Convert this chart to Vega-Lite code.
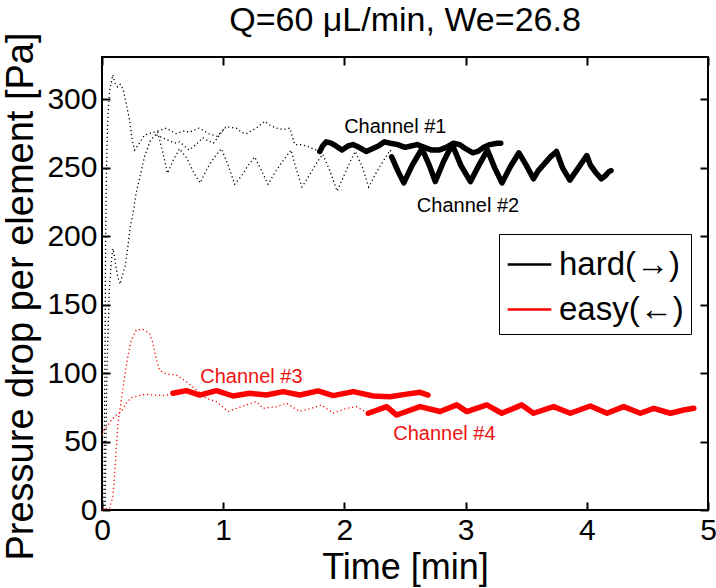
{
  "$schema": "https://vega.github.io/schema/vega-lite/v6.json",
  "width": 606,
  "height": 453,
  "autosize": {"type": "none"},
  "padding": {"left": 102, "top": 57, "right": 8, "bottom": 78},
  "background": "white",
  "title": {"text": "Q=60 μL/min, We=26.8", "font": "Liberation Sans", "fontSize": 34, "fontWeight": "normal", "color": "black", "anchor": "middle", "offset": -6},
  "config": {
    "view": {"stroke": "black", "strokeWidth": 2},
    "axis": {"domain": false, "grid": false, "zindex": 1, "labelFont": "Liberation Sans", "labelFontSize": 30, "labelColor": "black", "labelFlush": false, "titleFont": "Liberation Sans", "titleFontSize": 36, "titleFontWeight": "normal", "titleColor": "black", "ticks": true, "tickColor": "black", "tickWidth": 2, "tickSize": -8},
    "legend": {"orient": "none", "legendX": 397, "legendY": 177, "strokeColor": "black", "fillColor": "white", "padding": 7, "cornerRadius": 0, "symbolType": "stroke", "symbolSize": 1900, "symbolStrokeWidth": 2.5, "symbolDash": [1, 0], "labelFont": "Liberation Sans", "labelFontSize": 33, "labelColor": "black", "rowPadding": 4, "labelOffset": 6, "titleFontSize": 0}
  },
  "datasets": {
    "curves": [
      {"series": "A", "style": "dotted", "type": "hard(→)", "t": 0.015, "v": 0},
      {"series": "A", "style": "dotted", "type": "hard(→)", "t": 0.025, "v": 120},
      {"series": "A", "style": "dotted", "type": "hard(→)", "t": 0.03, "v": 200},
      {"series": "A", "style": "dotted", "type": "hard(→)", "t": 0.037, "v": 250},
      {"series": "A", "style": "dotted", "type": "hard(→)", "t": 0.047, "v": 285},
      {"series": "A", "style": "dotted", "type": "hard(→)", "t": 0.062, "v": 306},
      {"series": "A", "style": "dotted", "type": "hard(→)", "t": 0.089, "v": 318},
      {"series": "A", "style": "dotted", "type": "hard(→)", "t": 0.11, "v": 311},
      {"series": "A", "style": "dotted", "type": "hard(→)", "t": 0.13, "v": 309},
      {"series": "A", "style": "dotted", "type": "hard(→)", "t": 0.15, "v": 311},
      {"series": "A", "style": "dotted", "type": "hard(→)", "t": 0.172, "v": 308},
      {"series": "A", "style": "dotted", "type": "hard(→)", "t": 0.2, "v": 297},
      {"series": "A", "style": "dotted", "type": "hard(→)", "t": 0.227, "v": 285},
      {"series": "A", "style": "dotted", "type": "hard(→)", "t": 0.25, "v": 270},
      {"series": "A", "style": "dotted", "type": "hard(→)", "t": 0.269, "v": 263},
      {"series": "A", "style": "dotted", "type": "hard(→)", "t": 0.3, "v": 267},
      {"series": "A", "style": "dotted", "type": "hard(→)", "t": 0.351, "v": 274},
      {"series": "A", "style": "dotted", "type": "hard(→)", "t": 0.42, "v": 276},
      {"series": "A", "style": "dotted", "type": "hard(→)", "t": 0.5, "v": 278},
      {"series": "A", "style": "dotted", "type": "hard(→)", "t": 0.53, "v": 279},
      {"series": "A", "style": "dotted", "type": "hard(→)", "t": 0.61, "v": 275},
      {"series": "A", "style": "dotted", "type": "hard(→)", "t": 0.68, "v": 277},
      {"series": "A", "style": "dotted", "type": "hard(→)", "t": 0.72, "v": 276},
      {"series": "A", "style": "dotted", "type": "hard(→)", "t": 0.8, "v": 279},
      {"series": "A", "style": "dotted", "type": "hard(→)", "t": 0.88, "v": 275},
      {"series": "A", "style": "dotted", "type": "hard(→)", "t": 0.95, "v": 273},
      {"series": "A", "style": "dotted", "type": "hard(→)", "t": 1.026, "v": 280},
      {"series": "A", "style": "dotted", "type": "hard(→)", "t": 1.109, "v": 279},
      {"series": "A", "style": "dotted", "type": "hard(→)", "t": 1.15, "v": 276},
      {"series": "A", "style": "dotted", "type": "hard(→)", "t": 1.192, "v": 275},
      {"series": "A", "style": "dotted", "type": "hard(→)", "t": 1.23, "v": 277},
      {"series": "A", "style": "dotted", "type": "hard(→)", "t": 1.274, "v": 279},
      {"series": "A", "style": "dotted", "type": "hard(→)", "t": 1.343, "v": 284},
      {"series": "A", "style": "dotted", "type": "hard(→)", "t": 1.39, "v": 281},
      {"series": "A", "style": "dotted", "type": "hard(→)", "t": 1.44, "v": 279},
      {"series": "A", "style": "dotted", "type": "hard(→)", "t": 1.5, "v": 278},
      {"series": "A", "style": "dotted", "type": "hard(→)", "t": 1.55, "v": 279},
      {"series": "A", "style": "dotted", "type": "hard(→)", "t": 1.57, "v": 273},
      {"series": "A", "style": "dotted", "type": "hard(→)", "t": 1.59, "v": 267},
      {"series": "A", "style": "dotted", "type": "hard(→)", "t": 1.64, "v": 267},
      {"series": "A", "style": "dotted", "type": "hard(→)", "t": 1.688, "v": 266},
      {"series": "A", "style": "dotted", "type": "hard(→)", "t": 1.74, "v": 264},
      {"series": "A", "style": "dotted", "type": "hard(→)", "t": 1.797, "v": 262},

      {"series": "C", "style": "dotted", "type": "hard(→)", "t": 0.45, "v": 274},
      {"series": "C", "style": "dotted", "type": "hard(→)", "t": 0.5, "v": 272},
      {"series": "C", "style": "dotted", "type": "hard(→)", "t": 0.55, "v": 270},
      {"series": "C", "style": "dotted", "type": "hard(→)", "t": 0.6, "v": 268},
      {"series": "C", "style": "dotted", "type": "hard(→)", "t": 0.64, "v": 269},
      {"series": "C", "style": "dotted", "type": "hard(→)", "t": 0.68, "v": 266},
      {"series": "C", "style": "dotted", "type": "hard(→)", "t": 0.72, "v": 263},
      {"series": "C", "style": "dotted", "type": "hard(→)", "t": 0.76, "v": 266},
      {"series": "C", "style": "dotted", "type": "hard(→)", "t": 0.8, "v": 269},
      {"series": "C", "style": "dotted", "type": "hard(→)", "t": 0.83, "v": 272},
      {"series": "C", "style": "dotted", "type": "hard(→)", "t": 0.87, "v": 270},
      {"series": "C", "style": "dotted", "type": "hard(→)", "t": 0.92, "v": 268},
      {"series": "C", "style": "dotted", "type": "hard(→)", "t": 0.97, "v": 274},
      {"series": "C", "style": "dotted", "type": "hard(→)", "t": 1.02, "v": 280},

      {"series": "B", "style": "dotted", "type": "hard(→)", "t": 0.025, "v": 0},
      {"series": "B", "style": "dotted", "type": "hard(→)", "t": 0.04, "v": 100},
      {"series": "B", "style": "dotted", "type": "hard(→)", "t": 0.06, "v": 160},
      {"series": "B", "style": "dotted", "type": "hard(→)", "t": 0.08, "v": 185},
      {"series": "B", "style": "dotted", "type": "hard(→)", "t": 0.09, "v": 191},
      {"series": "B", "style": "dotted", "type": "hard(→)", "t": 0.1, "v": 187},
      {"series": "B", "style": "dotted", "type": "hard(→)", "t": 0.115, "v": 178},
      {"series": "B", "style": "dotted", "type": "hard(→)", "t": 0.13, "v": 170},
      {"series": "B", "style": "dotted", "type": "hard(→)", "t": 0.15, "v": 165},
      {"series": "B", "style": "dotted", "type": "hard(→)", "t": 0.17, "v": 172},
      {"series": "B", "style": "dotted", "type": "hard(→)", "t": 0.19, "v": 178},
      {"series": "B", "style": "dotted", "type": "hard(→)", "t": 0.21, "v": 190},
      {"series": "B", "style": "dotted", "type": "hard(→)", "t": 0.23, "v": 205},
      {"series": "B", "style": "dotted", "type": "hard(→)", "t": 0.26, "v": 219},
      {"series": "B", "style": "dotted", "type": "hard(→)", "t": 0.28, "v": 231},
      {"series": "B", "style": "dotted", "type": "hard(→)", "t": 0.32, "v": 246},
      {"series": "B", "style": "dotted", "type": "hard(→)", "t": 0.35, "v": 258},
      {"series": "B", "style": "dotted", "type": "hard(→)", "t": 0.4, "v": 270},
      {"series": "B", "style": "dotted", "type": "hard(→)", "t": 0.46, "v": 276},
      {"series": "B", "style": "dotted", "type": "hard(→)", "t": 0.5, "v": 262},
      {"series": "B", "style": "dotted", "type": "hard(→)", "t": 0.54, "v": 246},
      {"series": "B", "style": "dotted", "type": "hard(→)", "t": 0.59, "v": 256},
      {"series": "B", "style": "dotted", "type": "hard(→)", "t": 0.64, "v": 264},
      {"series": "B", "style": "dotted", "type": "hard(→)", "t": 0.7, "v": 257},
      {"series": "B", "style": "dotted", "type": "hard(→)", "t": 0.76, "v": 246},
      {"series": "B", "style": "dotted", "type": "hard(→)", "t": 0.81, "v": 239},
      {"series": "B", "style": "dotted", "type": "hard(→)", "t": 0.87, "v": 250},
      {"series": "B", "style": "dotted", "type": "hard(→)", "t": 0.93, "v": 258},
      {"series": "B", "style": "dotted", "type": "hard(→)", "t": 0.985, "v": 264},
      {"series": "B", "style": "dotted", "type": "hard(→)", "t": 1.04, "v": 252},
      {"series": "B", "style": "dotted", "type": "hard(→)", "t": 1.095, "v": 238},
      {"series": "B", "style": "dotted", "type": "hard(→)", "t": 1.15, "v": 244},
      {"series": "B", "style": "dotted", "type": "hard(→)", "t": 1.2, "v": 251},
      {"series": "B", "style": "dotted", "type": "hard(→)", "t": 1.26, "v": 258},
      {"series": "B", "style": "dotted", "type": "hard(→)", "t": 1.31, "v": 249},
      {"series": "B", "style": "dotted", "type": "hard(→)", "t": 1.37, "v": 238},
      {"series": "B", "style": "dotted", "type": "hard(→)", "t": 1.43, "v": 247},
      {"series": "B", "style": "dotted", "type": "hard(→)", "t": 1.5, "v": 256},
      {"series": "B", "style": "dotted", "type": "hard(→)", "t": 1.56, "v": 263},
      {"series": "B", "style": "dotted", "type": "hard(→)", "t": 1.6, "v": 250},
      {"series": "B", "style": "dotted", "type": "hard(→)", "t": 1.65, "v": 236},
      {"series": "B", "style": "dotted", "type": "hard(→)", "t": 1.7, "v": 243},
      {"series": "B", "style": "dotted", "type": "hard(→)", "t": 1.76, "v": 252},
      {"series": "B", "style": "dotted", "type": "hard(→)", "t": 1.82, "v": 260},
      {"series": "B", "style": "dotted", "type": "hard(→)", "t": 1.88, "v": 248},
      {"series": "B", "style": "dotted", "type": "hard(→)", "t": 1.94, "v": 233},
      {"series": "B", "style": "dotted", "type": "hard(→)", "t": 2.0, "v": 245},
      {"series": "B", "style": "dotted", "type": "hard(→)", "t": 2.05, "v": 255},
      {"series": "B", "style": "dotted", "type": "hard(→)", "t": 2.09, "v": 262},
      {"series": "B", "style": "dotted", "type": "hard(→)", "t": 2.15, "v": 250},
      {"series": "B", "style": "dotted", "type": "hard(→)", "t": 2.2, "v": 236},
      {"series": "B", "style": "dotted", "type": "hard(→)", "t": 2.26, "v": 246},
      {"series": "B", "style": "dotted", "type": "hard(→)", "t": 2.32, "v": 255},
      {"series": "B", "style": "dotted", "type": "hard(→)", "t": 2.38, "v": 263},
      {"series": "B", "style": "dotted", "type": "hard(→)", "t": 2.39, "v": 258},

      {"series": "R3", "style": "dotted", "type": "easy(←)", "t": 0.0, "v": 55},
      {"series": "R3", "style": "dotted", "type": "easy(←)", "t": 0.02, "v": 59},
      {"series": "R3", "style": "dotted", "type": "easy(←)", "t": 0.05, "v": 62},
      {"series": "R3", "style": "dotted", "type": "easy(←)", "t": 0.08, "v": 66},
      {"series": "R3", "style": "dotted", "type": "easy(←)", "t": 0.1, "v": 68},
      {"series": "R3", "style": "dotted", "type": "easy(←)", "t": 0.13, "v": 70},
      {"series": "R3", "style": "dotted", "type": "easy(←)", "t": 0.16, "v": 72},
      {"series": "R3", "style": "dotted", "type": "easy(←)", "t": 0.2, "v": 78},
      {"series": "R3", "style": "dotted", "type": "easy(←)", "t": 0.24, "v": 82},
      {"series": "R3", "style": "dotted", "type": "easy(←)", "t": 0.3, "v": 83.5},
      {"series": "R3", "style": "dotted", "type": "easy(←)", "t": 0.36, "v": 84.6},
      {"series": "R3", "style": "dotted", "type": "easy(←)", "t": 0.42, "v": 84},
      {"series": "R3", "style": "dotted", "type": "easy(←)", "t": 0.5, "v": 83.6},
      {"series": "R3", "style": "dotted", "type": "easy(←)", "t": 0.585, "v": 84.6},

      {"series": "R4", "style": "dotted", "type": "easy(←)", "t": 0.0, "v": 0},
      {"series": "R4", "style": "dotted", "type": "easy(←)", "t": 0.02, "v": 1},
      {"series": "R4", "style": "dotted", "type": "easy(←)", "t": 0.062, "v": 1},
      {"series": "R4", "style": "dotted", "type": "easy(←)", "t": 0.089, "v": 9.7},
      {"series": "R4", "style": "dotted", "type": "easy(←)", "t": 0.103, "v": 24},
      {"series": "R4", "style": "dotted", "type": "easy(←)", "t": 0.117, "v": 44},
      {"series": "R4", "style": "dotted", "type": "easy(←)", "t": 0.131, "v": 63},
      {"series": "R4", "style": "dotted", "type": "easy(←)", "t": 0.159, "v": 80},
      {"series": "R4", "style": "dotted", "type": "easy(←)", "t": 0.186, "v": 97},
      {"series": "R4", "style": "dotted", "type": "easy(←)", "t": 0.213, "v": 112},
      {"series": "R4", "style": "dotted", "type": "easy(←)", "t": 0.241, "v": 124},
      {"series": "R4", "style": "dotted", "type": "easy(←)", "t": 0.283, "v": 131.6},
      {"series": "R4", "style": "dotted", "type": "easy(←)", "t": 0.337, "v": 132},
      {"series": "R4", "style": "dotted", "type": "easy(←)", "t": 0.393, "v": 129},
      {"series": "R4", "style": "dotted", "type": "easy(←)", "t": 0.42, "v": 122},
      {"series": "R4", "style": "dotted", "type": "easy(←)", "t": 0.448, "v": 110},
      {"series": "R4", "style": "dotted", "type": "easy(←)", "t": 0.475, "v": 102},
      {"series": "R4", "style": "dotted", "type": "easy(←)", "t": 0.531, "v": 99.4},
      {"series": "R4", "style": "dotted", "type": "easy(←)", "t": 0.613, "v": 98.7},
      {"series": "R4", "style": "dotted", "type": "easy(←)", "t": 0.696, "v": 93.8},
      {"series": "R4", "style": "dotted", "type": "easy(←)", "t": 0.779, "v": 87.7},
      {"series": "R4", "style": "dotted", "type": "easy(←)", "t": 0.861, "v": 81.6},
      {"series": "R4", "style": "dotted", "type": "easy(←)", "t": 0.944, "v": 79.2},
      {"series": "R4", "style": "dotted", "type": "easy(←)", "t": 1.04, "v": 72},
      {"series": "R4", "style": "dotted", "type": "easy(←)", "t": 1.19, "v": 76.8},
      {"series": "R4", "style": "dotted", "type": "easy(←)", "t": 1.274, "v": 79.2},
      {"series": "R4", "style": "dotted", "type": "easy(←)", "t": 1.329, "v": 74.3},
      {"series": "R4", "style": "dotted", "type": "easy(←)", "t": 1.44, "v": 75.5},
      {"series": "R4", "style": "dotted", "type": "easy(←)", "t": 1.522, "v": 78},
      {"series": "R4", "style": "dotted", "type": "easy(←)", "t": 1.632, "v": 72},
      {"series": "R4", "style": "dotted", "type": "easy(←)", "t": 1.729, "v": 74.3},
      {"series": "R4", "style": "dotted", "type": "easy(←)", "t": 1.81, "v": 76.8},
      {"series": "R4", "style": "dotted", "type": "easy(←)", "t": 1.907, "v": 70.7},
      {"series": "R4", "style": "dotted", "type": "easy(←)", "t": 2.018, "v": 74.3},
      {"series": "R4", "style": "dotted", "type": "easy(←)", "t": 2.1, "v": 75.5},
      {"series": "R4", "style": "dotted", "type": "easy(←)", "t": 2.197, "v": 70.7},

      {"series": "H1", "style": "thick", "type": "hard(→)", "t": 1.797, "v": 262},
      {"series": "H1", "style": "thick", "type": "hard(→)", "t": 1.82, "v": 266},
      {"series": "H1", "style": "thick", "type": "hard(→)", "t": 1.85, "v": 269},
      {"series": "H1", "style": "thick", "type": "hard(→)", "t": 1.89, "v": 268},
      {"series": "H1", "style": "thick", "type": "hard(→)", "t": 1.93, "v": 266},
      {"series": "H1", "style": "thick", "type": "hard(→)", "t": 1.98, "v": 263},
      {"series": "H1", "style": "thick", "type": "hard(→)", "t": 2.03, "v": 266},
      {"series": "H1", "style": "thick", "type": "hard(→)", "t": 2.07, "v": 267},
      {"series": "H1", "style": "thick", "type": "hard(→)", "t": 2.12, "v": 265},
      {"series": "H1", "style": "thick", "type": "hard(→)", "t": 2.18, "v": 262},
      {"series": "H1", "style": "thick", "type": "hard(→)", "t": 2.23, "v": 264},
      {"series": "H1", "style": "thick", "type": "hard(→)", "t": 2.28, "v": 266},
      {"series": "H1", "style": "thick", "type": "hard(→)", "t": 2.33, "v": 269},
      {"series": "H1", "style": "thick", "type": "hard(→)", "t": 2.38, "v": 268},
      {"series": "H1", "style": "thick", "type": "hard(→)", "t": 2.44, "v": 267},
      {"series": "H1", "style": "thick", "type": "hard(→)", "t": 2.5, "v": 265},
      {"series": "H1", "style": "thick", "type": "hard(→)", "t": 2.55, "v": 266},
      {"series": "H1", "style": "thick", "type": "hard(→)", "t": 2.6, "v": 267},
      {"series": "H1", "style": "thick", "type": "hard(→)", "t": 2.66, "v": 265},
      {"series": "H1", "style": "thick", "type": "hard(→)", "t": 2.72, "v": 263},
      {"series": "H1", "style": "thick", "type": "hard(→)", "t": 2.78, "v": 263},
      {"series": "H1", "style": "thick", "type": "hard(→)", "t": 2.84, "v": 265},
      {"series": "H1", "style": "thick", "type": "hard(→)", "t": 2.9, "v": 268},
      {"series": "H1", "style": "thick", "type": "hard(→)", "t": 2.95, "v": 267},
      {"series": "H1", "style": "thick", "type": "hard(→)", "t": 3.0, "v": 264},
      {"series": "H1", "style": "thick", "type": "hard(→)", "t": 3.06, "v": 261},
      {"series": "H1", "style": "thick", "type": "hard(→)", "t": 3.1, "v": 262},
      {"series": "H1", "style": "thick", "type": "hard(→)", "t": 3.15, "v": 265},
      {"series": "H1", "style": "thick", "type": "hard(→)", "t": 3.2, "v": 267},
      {"series": "H1", "style": "thick", "type": "hard(→)", "t": 3.26, "v": 268},
      {"series": "H1", "style": "thick", "type": "hard(→)", "t": 3.29, "v": 268},

      {"series": "H2", "style": "thick", "type": "hard(→)", "t": 2.39, "v": 258},
      {"series": "H2", "style": "thick", "type": "hard(→)", "t": 2.44, "v": 248},
      {"series": "H2", "style": "thick", "type": "hard(→)", "t": 2.49, "v": 239},
      {"series": "H2", "style": "thick", "type": "hard(→)", "t": 2.56, "v": 252},
      {"series": "H2", "style": "thick", "type": "hard(→)", "t": 2.64, "v": 264},
      {"series": "H2", "style": "thick", "type": "hard(→)", "t": 2.7, "v": 252},
      {"series": "H2", "style": "thick", "type": "hard(→)", "t": 2.75, "v": 240},
      {"series": "H2", "style": "thick", "type": "hard(→)", "t": 2.82, "v": 255},
      {"series": "H2", "style": "thick", "type": "hard(→)", "t": 2.89, "v": 267},
      {"series": "H2", "style": "thick", "type": "hard(→)", "t": 2.96, "v": 252},
      {"series": "H2", "style": "thick", "type": "hard(→)", "t": 3.04, "v": 240},
      {"series": "H2", "style": "thick", "type": "hard(→)", "t": 3.11, "v": 252},
      {"series": "H2", "style": "thick", "type": "hard(→)", "t": 3.18, "v": 263},
      {"series": "H2", "style": "thick", "type": "hard(→)", "t": 3.24, "v": 250},
      {"series": "H2", "style": "thick", "type": "hard(→)", "t": 3.3, "v": 239},
      {"series": "H2", "style": "thick", "type": "hard(→)", "t": 3.37, "v": 251},
      {"series": "H2", "style": "thick", "type": "hard(→)", "t": 3.44, "v": 261},
      {"series": "H2", "style": "thick", "type": "hard(→)", "t": 3.5, "v": 252},
      {"series": "H2", "style": "thick", "type": "hard(→)", "t": 3.56, "v": 242},
      {"series": "H2", "style": "thick", "type": "hard(→)", "t": 3.6, "v": 248},
      {"series": "H2", "style": "thick", "type": "hard(→)", "t": 3.64, "v": 252},
      {"series": "H2", "style": "thick", "type": "hard(→)", "t": 3.7, "v": 258},
      {"series": "H2", "style": "thick", "type": "hard(→)", "t": 3.75, "v": 262},
      {"series": "H2", "style": "thick", "type": "hard(→)", "t": 3.8, "v": 250},
      {"series": "H2", "style": "thick", "type": "hard(→)", "t": 3.86, "v": 241},
      {"series": "H2", "style": "thick", "type": "hard(→)", "t": 3.93, "v": 250},
      {"series": "H2", "style": "thick", "type": "hard(→)", "t": 4.0, "v": 259},
      {"series": "H2", "style": "thick", "type": "hard(→)", "t": 4.03, "v": 252},
      {"series": "H2", "style": "thick", "type": "hard(→)", "t": 4.07, "v": 247},
      {"series": "H2", "style": "thick", "type": "hard(→)", "t": 4.12, "v": 242},
      {"series": "H2", "style": "thick", "type": "hard(→)", "t": 4.15, "v": 244},
      {"series": "H2", "style": "thick", "type": "hard(→)", "t": 4.18, "v": 247},
      {"series": "H2", "style": "thick", "type": "hard(→)", "t": 4.2, "v": 248},

      {"series": "E3", "style": "thick", "type": "easy(←)", "t": 0.585, "v": 85.3},
      {"series": "E3", "style": "thick", "type": "easy(←)", "t": 0.696, "v": 87.2},
      {"series": "E3", "style": "thick", "type": "easy(←)", "t": 0.806, "v": 84},
      {"series": "E3", "style": "thick", "type": "easy(←)", "t": 0.944, "v": 87.2},
      {"series": "E3", "style": "thick", "type": "easy(←)", "t": 1.081, "v": 83.3},
      {"series": "E3", "style": "thick", "type": "easy(←)", "t": 1.219, "v": 85.3},
      {"series": "E3", "style": "thick", "type": "easy(←)", "t": 1.357, "v": 84},
      {"series": "E3", "style": "thick", "type": "easy(←)", "t": 1.494, "v": 86.5},
      {"series": "E3", "style": "thick", "type": "easy(←)", "t": 1.632, "v": 84},
      {"series": "E3", "style": "thick", "type": "easy(←)", "t": 1.783, "v": 87},
      {"series": "E3", "style": "thick", "type": "easy(←)", "t": 1.907, "v": 83.6},
      {"series": "E3", "style": "thick", "type": "easy(←)", "t": 2.073, "v": 86.5},
      {"series": "E3", "style": "thick", "type": "easy(←)", "t": 2.238, "v": 83.3},
      {"series": "E3", "style": "thick", "type": "easy(←)", "t": 2.376, "v": 82.8},
      {"series": "E3", "style": "thick", "type": "easy(←)", "t": 2.5, "v": 84.5},
      {"series": "E3", "style": "thick", "type": "easy(←)", "t": 2.624, "v": 86},
      {"series": "E3", "style": "thick", "type": "easy(←)", "t": 2.69, "v": 84},

      {"series": "E4", "style": "thick", "type": "easy(←)", "t": 2.197, "v": 70.7},
      {"series": "E4", "style": "thick", "type": "easy(←)", "t": 2.349, "v": 75.5},
      {"series": "E4", "style": "thick", "type": "easy(←)", "t": 2.431, "v": 69.4},
      {"series": "E4", "style": "thick", "type": "easy(←)", "t": 2.624, "v": 75.5},
      {"series": "E4", "style": "thick", "type": "easy(←)", "t": 2.79, "v": 72},
      {"series": "E4", "style": "thick", "type": "easy(←)", "t": 2.927, "v": 76.8},
      {"series": "E4", "style": "thick", "type": "easy(←)", "t": 3.01, "v": 71.9},
      {"series": "E4", "style": "thick", "type": "easy(←)", "t": 3.175, "v": 76.8},
      {"series": "E4", "style": "thick", "type": "easy(←)", "t": 3.299, "v": 70.7},
      {"series": "E4", "style": "thick", "type": "easy(←)", "t": 3.464, "v": 76.8},
      {"series": "E4", "style": "thick", "type": "easy(←)", "t": 3.56, "v": 70.7},
      {"series": "E4", "style": "thick", "type": "easy(←)", "t": 3.726, "v": 75.5},
      {"series": "E4", "style": "thick", "type": "easy(←)", "t": 3.864, "v": 70.7},
      {"series": "E4", "style": "thick", "type": "easy(←)", "t": 4.029, "v": 76},
      {"series": "E4", "style": "thick", "type": "easy(←)", "t": 4.167, "v": 70.7},
      {"series": "E4", "style": "thick", "type": "easy(←)", "t": 4.304, "v": 75.5},
      {"series": "E4", "style": "thick", "type": "easy(←)", "t": 4.442, "v": 70.7},
      {"series": "E4", "style": "thick", "type": "easy(←)", "t": 4.552, "v": 74.3},
      {"series": "E4", "style": "thick", "type": "easy(←)", "t": 4.69, "v": 70.7},
      {"series": "E4", "style": "thick", "type": "easy(←)", "t": 4.8, "v": 73.1},
      {"series": "E4", "style": "thick", "type": "easy(←)", "t": 4.883, "v": 74.3}
    ],
    "labels": [
      {"label": "Channel #1", "type": "hard(→)", "t": 2.42, "v": 280},
      {"label": "Channel #2", "type": "hard(→)", "t": 3.02, "v": 222},
      {"label": "Channel #3", "type": "easy(←)", "t": 1.233, "v": 97.4},
      {"label": "Channel #4", "type": "easy(←)", "t": 2.825, "v": 55.6}
    ]
  },
  "layer": [
    {
      "data": {"name": "curves"},
      "transform": [{"filter": "datum.style === 'dotted'"}],
      "mark": {"type": "line", "strokeWidth": 1.3, "strokeDash": [1.2, 2.8], "interpolate": "linear"},
      "encoding": {
        "x": {"field": "t", "type": "quantitative", "scale": {"domain": [0, 5], "nice": false, "zero": false}, "axis": {"values": [0, 1, 2, 3, 4, 5], "title": "Time [min]", "labelPadding": 13, "titleY": 57, "titleBaseline": "middle"}},
        "y": {"field": "v", "type": "quantitative", "scale": {"domain": [0, 331], "nice": false}, "axis": {"values": [0, 50, 100, 150, 200, 250, 300], "title": "Pressure drop per element [Pa]", "titleFontSize": 38, "labelPadding": 13, "titleX": -81, "titleY": 239, "titleBaseline": "middle"}},
        "color": {"field": "type", "type": "nominal", "scale": {"domain": ["hard(→)", "easy(←)"], "range": ["#000000", "#ff0000"]}, "legend": {"title": null}},
        "detail": {"field": "series"}
      }
    },
    {
      "data": {"name": "curves"},
      "transform": [{"filter": "datum.style === 'thick'"}],
      "mark": {"type": "line", "strokeWidth": 5.5, "strokeJoin": "round", "strokeCap": "round"},
      "encoding": {
        "x": {"field": "t", "type": "quantitative", "axis": null},
        "y": {"field": "v", "type": "quantitative", "axis": null},
        "color": {"field": "type", "type": "nominal"},
        "detail": {"field": "series"}
      }
    },
    {
      "data": {"name": "labels"},
      "transform": [{"filter": "datum.type === 'hard(→)'"}],
      "mark": {"type": "text", "font": "Liberation Sans", "fontSize": 20, "color": "black", "align": "center", "baseline": "middle"},
      "encoding": {
        "x": {"field": "t", "type": "quantitative", "axis": null},
        "y": {"field": "v", "type": "quantitative", "axis": null},
        "text": {"field": "label"}
      }
    },
    {
      "data": {"name": "labels"},
      "transform": [{"filter": "datum.type === 'easy(←)'"}],
      "mark": {"type": "text", "font": "Liberation Sans", "fontSize": 20, "color": "#ee1111", "align": "center", "baseline": "middle"},
      "encoding": {
        "x": {"field": "t", "type": "quantitative", "axis": null},
        "y": {"field": "v", "type": "quantitative", "axis": null},
        "text": {"field": "label"}
      }
    },
    {
      "data": {"name": "labels"},
      "mark": {"type": "point", "opacity": 0},
      "encoding": {
        "x": {"field": "t", "type": "quantitative", "axis": {"orient": "top", "values": [0, 1, 2, 3, 4, 5], "labels": false, "title": null}},
        "y": {"field": "v", "type": "quantitative", "axis": {"orient": "right", "values": [0, 50, 100, 150, 200, 250, 300], "labels": false, "title": null}}
      }
    }
  ],
  "resolve": {"axis": {"x": "independent", "y": "independent"}}
}
